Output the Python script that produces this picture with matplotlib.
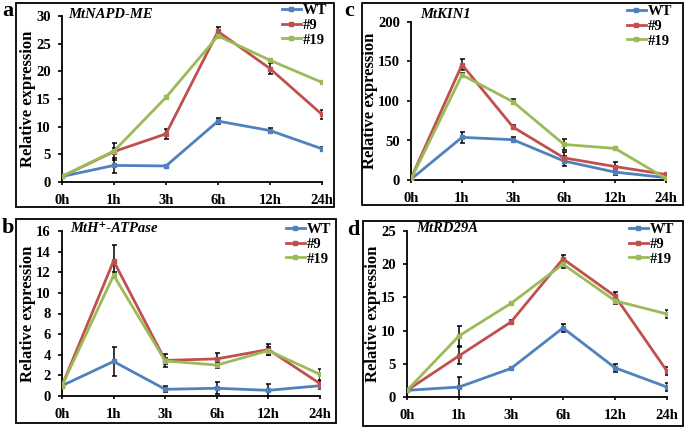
import matplotlib
matplotlib.use("Agg")
import matplotlib.pyplot as plt
from matplotlib.patches import Rectangle
import numpy as np

plt.rcParams['font.family'] = ['Liberation Serif', 'DejaVu Serif']
plt.rcParams['font.weight'] = 'bold'

times = ['0h', '1h', '3h', '6h', '12h', '24h']
series = ['WT', '#9', '#19']
colors = ['#4F81BD', '#C0504D', '#9BBB59']

# panel a: MtNAPD-ME
a_wt = [1.0, 3.0, 2.9, 11.0, 9.3, 6.0]
a_9 = [1.0, 5.5, 8.7, 27.2, 20.5, 12.2]
a_19 = [1.0, 5.6, 15.3, 26.4, 22.0, 18.0]
a_wt_err = [0.2, 1.4, 0.2, 0.5, 0.5, 0.4]
a_9_err = [0.2, 1.5, 0.9, 0.9, 1.0, 0.8]
a_19_err = [0.2, 0.5, 0.2, 0.3, 0.2, 0.2]

# panel b: MtH+-ATPase
b_wt = [1.0, 3.35, 0.65, 0.75, 0.55, 1.0]
b_9 = [1.0, 13.1, 3.45, 3.6, 4.5, 1.2]
b_19 = [1.0, 11.7, 3.4, 3.0, 4.4, 2.1]
b_wt_err = [0.1, 1.45, 0.3, 0.6, 0.6, 0.3]
b_9_err = [0.1, 1.5, 0.6, 0.6, 0.5, 0.3]
b_19_err = [0.1, 0.3, 0.3, 0.3, 0.4, 0.5]

# panel c: MtKIN1
c_wt = [1, 54, 51, 24, 10, 3]
c_9 = [2, 146, 67, 28, 17, 7]
c_19 = [1, 133, 99, 45, 40, 2]
c_wt_err = [0.5, 7, 3, 6, 4, 1]
c_9_err = [0.5, 7, 3, 7, 6, 2]
c_19_err = [0.5, 3, 3, 7, 2, 1]

# panel d: MtRD29A
d_wt = [1.0, 1.5, 4.3, 10.4, 4.4, 1.5]
d_9 = [1.0, 6.2, 11.3, 20.8, 15.2, 3.9]
d_19 = [1.0, 9.2, 14.1, 20.0, 14.5, 12.5]
d_wt_err = [0.1, 1.5, 0.2, 0.6, 0.6, 0.6]
d_9_err = [0.1, 1.3, 0.3, 0.6, 0.6, 0.6]
d_19_err = [0.1, 1.5, 0.2, 0.6, 0.5, 0.6]

W, H = 685, 428
fig = plt.figure(figsize=(W / 100, H / 100), dpi=100)


def px(l, t, r, b):
    return [l / W, 1 - b / H, (r - l) / W, (b - t) / H]


panels = [
    # letter, title, values, errs, ymax, yticks, axes box, frame box, letter pos, title pos, legend pos
    ('a', 'MtNAPD-ME', [a_wt, a_9, a_19], [a_wt_err, a_9_err, a_19_err], 30, np.arange(0, 31, 5),
     (62, 16, 322, 182), (16, 3, 334, 207), (2, 1), (68, 14), (282, 4)),
    ('c', 'MtKIN1', [c_wt, c_9, c_19], [c_wt_err, c_9_err, c_19_err], 200, np.arange(0, 201, 50),
     (411, 22, 666, 180), (362, 3, 683, 205), (344, 1), (420, 14), (627, 5)),
    ('b', 'MtH\u207a-ATPase', [b_wt, b_9, b_19], [b_wt_err, b_9_err, b_19_err], 16, np.arange(0, 17, 2),
     (62, 231, 320, 396), (16, 219, 336, 423), (2, 218), (70, 229), (286, 223)),
    ('d', 'MtRD29A', [d_wt, d_9, d_19], [d_wt_err, d_9_err, d_19_err], 25, np.arange(0, 26, 5),
     (407, 231, 667, 397), (363, 221, 683, 426), (347, 220), (416, 229), (629, 223)),
]

x = np.arange(len(times))
for letter, title, vals, errs, ymax, yticks, abox, fbox, lpos, tpos, legpos in panels:
    # panel frame
    l, t, r, b = fbox
    fig.patches.append(Rectangle((l / W, 1 - b / H), (r - l) / W, (b - t) / H,
                                 transform=fig.transFigure, fill=False,
                                 edgecolor='black', linewidth=1.3))
    fig.text(lpos[0] / W, 1 - lpos[1] / H, letter, fontsize=16, fontweight='bold',
             va='top', ha='left')

    ax = fig.add_axes(px(*abox))
    lines = []
    for v, e, c, name in zip(vals, errs, colors, series):
        ax.errorbar(x, v, yerr=e, fmt='none', ecolor='black', elinewidth=1.1,
                    capsize=1.8, capthick=1.1, zorder=2)
        ln, = ax.plot(x, v, color=c, linewidth=2.0, marker='s', markersize=2.6,
                      label=name, zorder=3)
        lines.append(ln)

    ax.set_xlim(0, 5)
    ax.set_ylim(0, ymax)
    ax.set_yticks(yticks)
    ax.set_xticks(x)
    ax.set_xticklabels(times)
    ax.spines['top'].set_visible(False)
    ax.spines['right'].set_visible(False)
    ax.spines['left'].set_linewidth(1.3)
    ax.spines['bottom'].set_linewidth(1.3)
    ax.tick_params(axis='y', direction='out', length=3, width=1.2, labelsize=10.5, pad=5)
    ax.tick_params(axis='x', direction='out', length=2.5, width=1.2, labelsize=10.5, pad=6)
    for lab in ax.get_xticklabels() + ax.get_yticklabels():
        lab.set_fontweight('bold')
    ax.set_ylabel('Relative expression', fontsize=12, fontweight='bold', labelpad=0)

    fig.text(tpos[0] / W, 1 - tpos[1] / H, title, fontsize=10.5, fontweight='bold',
             fontstyle='italic', va='center', ha='left')

    fig.legend(handles=lines, loc='upper left',
               bbox_to_anchor=(legpos[0] / W, 1 - legpos[1] / H),
               bbox_transform=fig.transFigure, frameon=False, borderpad=0,
               borderaxespad=0, handlelength=1.3, handletextpad=0.15,
               labelspacing=0.1, prop={'size': 10.5, 'weight': 'bold'})

fig.savefig('out.png', dpi=100)
